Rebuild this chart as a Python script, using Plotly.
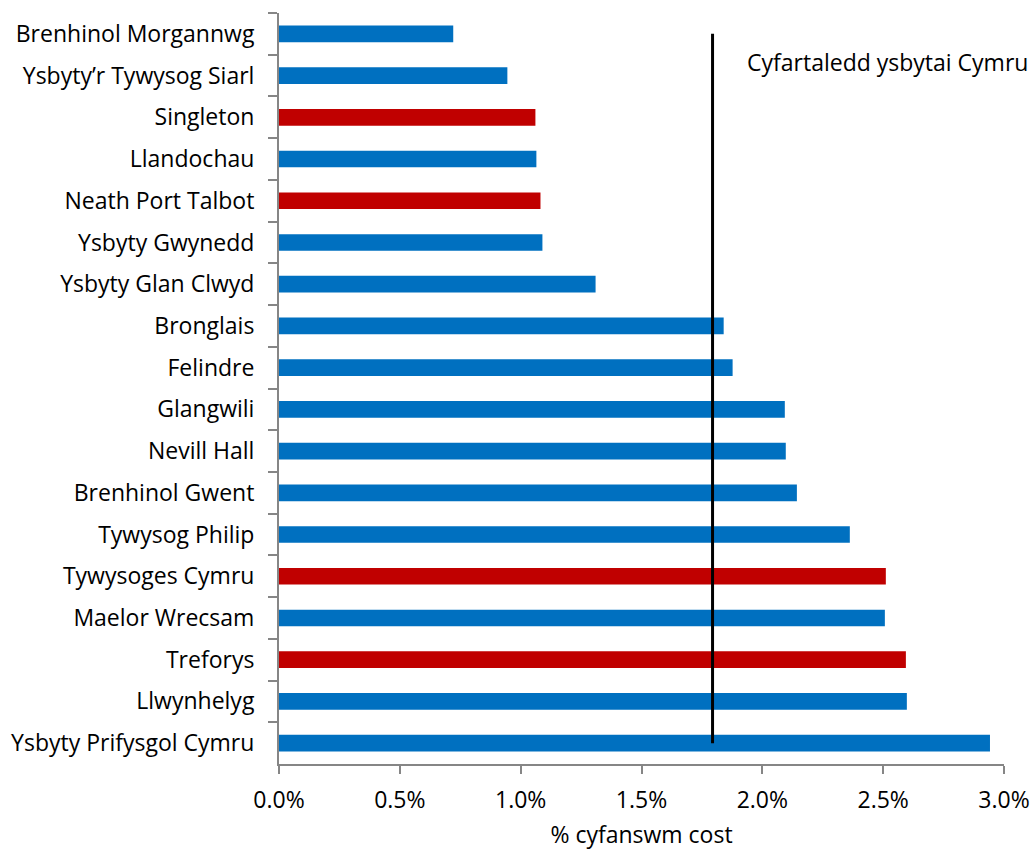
import plotly.graph_objects as go

hospitals = [
    "Brenhinol Morgannwg", "Ysbyty’r Tywysog Siarl", "Singleton", "Llandochau",
    "Neath Port Talbot", "Ysbyty Gwynedd", "Ysbyty Glan Clwyd", "Bronglais",
    "Felindre", "Glangwili", "Nevill Hall", "Brenhinol Gwent", "Tywysog Philip",
    "Tywysoges Cymru", "Maelor Wrecsam", "Treforys", "Llwynhelyg",
    "Ysbyty Prifysgol Cymru",
]
values = [0.721, 0.945, 1.061, 1.065, 1.082, 1.090, 1.310, 1.840, 1.877,
          2.093, 2.097, 2.143, 2.362, 2.511, 2.507, 2.594, 2.598, 2.942]
highlight = [False, False, True, False, True, False, False, False, False,
             False, False, False, False, True, False, True, False, False]
average = 1.794
avg_label = "Cyfartaledd ysbytai Cymru"
x_title = "% cyfanswm cost"
tick_vals = [0, 0.5, 1.0, 1.5, 2.0, 2.5, 3.0]
tick_text = ["0.0%", "0.5%", "1.0%", "1.5%", "2.0%", "2.5%", "3.0%"]

BLUE = "#0070C0"
RED = "#C00000"
colors = [RED if h else BLUE for h in highlight]

FONT = "Open Sans"
FS = 23
fig = go.Figure()
fig.add_trace(go.Bar(
    x=values, y=hospitals, orientation="h",
    marker=dict(color=colors, line=dict(width=0)),
    width=0.4, showlegend=False, hoverinfo="x+y",
))
fig.add_trace(go.Scatter(
    x=[average] * len(hospitals), y=hospitals, mode="lines",
    line=dict(color="black", width=3), showlegend=False, hoverinfo="skip",
))
fig.add_annotation(
    x=1.036, y=0.935, xref="paper", yref="paper", xanchor="right", yanchor="middle",
    text=avg_label, showarrow=False, font=dict(family=FONT, size=FS, color="black"),
)
fig.update_layout(
    width=1036, height=850,
    margin=dict(l=279, r=32, t=13, b=86),
    plot_bgcolor="white", paper_bgcolor="white",
    font=dict(family=FONT, size=FS, color="black"),
)
fig.update_xaxes(
    range=[0, 3.0], tickvals=tick_vals, ticktext=tick_text,
    showgrid=False, zeroline=False, automargin=False,
    showline=True, linecolor="#868686", linewidth=2,
    ticks="outside", ticklen=8, tickcolor="#868686", tickwidth=2,
    ticklabelstandoff=6,
    title=dict(text=x_title, standoff=27, font=dict(family=FONT, size=FS)),
    tickfont=dict(family=FONT, size=FS),
)
fig.update_yaxes(
    range=[len(hospitals) - 0.5, -0.5], type="category",
    showgrid=False, zeroline=False, automargin=False,
    showline=True, linecolor="#868686", linewidth=2,
    ticks="outside", ticklen=9, tickcolor="#868686", tickwidth=2,
    tickson="boundaries", tickfont=dict(family=FONT, size=FS),
    ticklabelstandoff=18,
)
fig.write_html("out.html")
